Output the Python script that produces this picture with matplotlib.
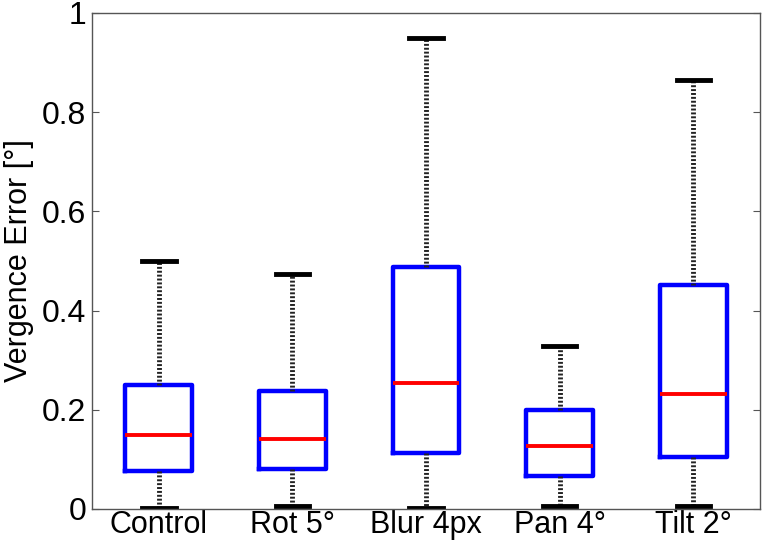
import matplotlib
matplotlib.use('Agg')
import matplotlib.pyplot as plt

plt.rcParams['font.family'] = ['Liberation Sans', 'DejaVu Sans']

labels = ['Control', 'Rot 5°', 'Blur 4px', 'Pan 4°', 'Tilt 2°']
medians = [0.150, 0.141, 0.254, 0.128, 0.232]
q1 = [0.077, 0.081, 0.112, 0.067, 0.105]
q3 = [0.249, 0.238, 0.487, 0.199, 0.451]
whislo = [0.002, 0.007, 0.002, 0.007, 0.007]
whishi = [0.501, 0.473, 0.949, 0.328, 0.864]

stats = []
for i in range(len(labels)):
    stats.append(dict(label=labels[i], med=medians[i], q1=q1[i], q3=q3[i],
                      whislo=whislo[i], whishi=whishi[i], fliers=[]))

fig = plt.figure(figsize=(7.68, 5.43), dpi=100)
ax = fig.add_axes([92/768, 1-509/543, (760-92)/768, (509-13)/543])

ax.bxp(stats, positions=range(1, 6), widths=0.5, showfliers=False,
       boxprops=dict(color='#0000ff', linewidth=3.2),
       medianprops=dict(color='#ff0000', linewidth=2.8),
       whiskerprops=dict(color='#222222', linewidth=3.5, linestyle=(0, (0.4, 0.4))),
       capprops=dict(color='black', linewidth=3.5),
       capwidths=0.25)

ax.set_xlim(0.5, 5.5)
ax.set_ylim(0, 1)
ax.set_yticks([0, 0.2, 0.4, 0.6, 0.8, 1])
ax.set_yticklabels(['0', '0.2', '0.4', '0.6', '0.8', '1'])
ax.tick_params(axis='y', direction='in', length=5, right=True, labelsize=23, pad=4,
               color='#555555')
ax.tick_params(axis='x', length=0, labelsize=22, pad=1)
ax.set_ylabel('Vergence Error [°]', fontsize=22, labelpad=6)
for s in ax.spines.values():
    s.set_color('#555555')
    s.set_linewidth(1)

fig.savefig('out.png', dpi=100)
